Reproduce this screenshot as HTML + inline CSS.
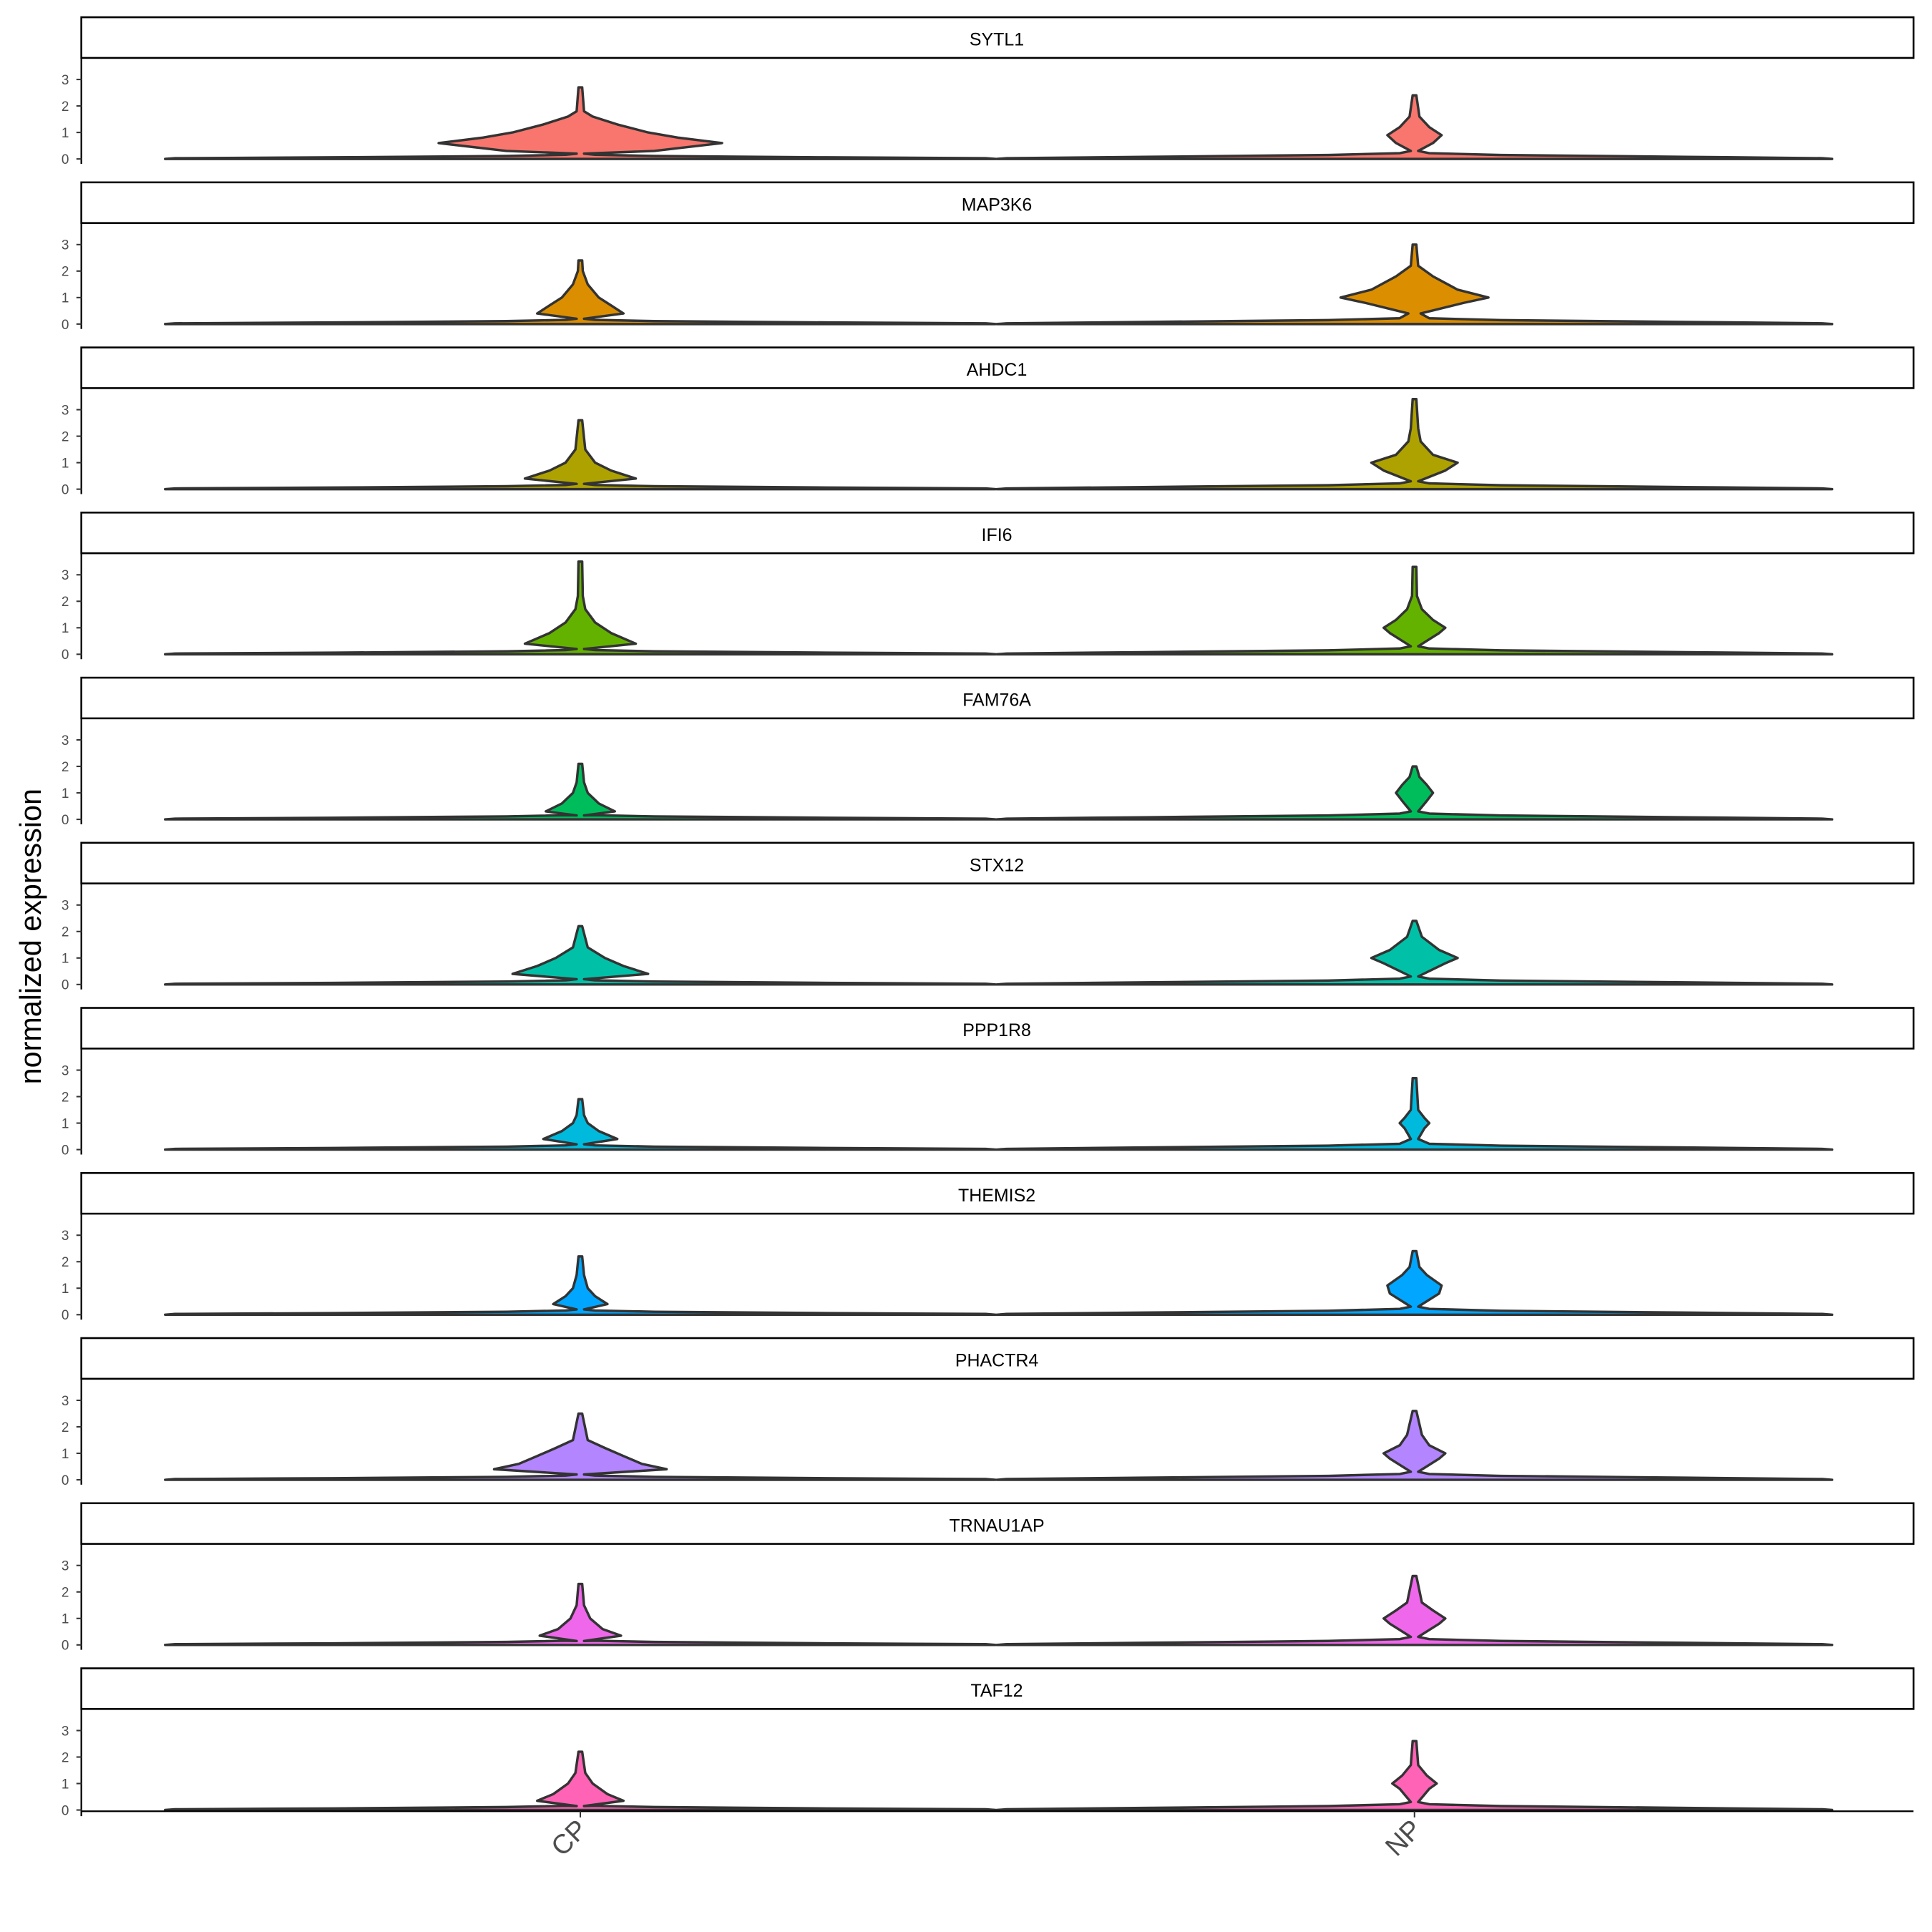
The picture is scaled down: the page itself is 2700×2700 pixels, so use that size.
<!DOCTYPE html>
<html><head><meta charset="utf-8"><style>html,body{margin:0;padding:0;background:#fff}svg{display:block}</style></head>
<body>
<svg id="s" xmlns="http://www.w3.org/2000/svg" width="2700" height="2700" viewBox="0 0 1568 1568" font-family="Liberation Sans, sans-serif">
<rect width="1568" height="1568" fill="#fff"/>
<g id="g"></g>
<g id="t" fill="#000" font-size="14.5" text-anchor="middle">
<text x="809" y="37">SYTL1</text>
<text x="809" y="171">MAP3K6</text>
<text x="809" y="305">AHDC1</text>
<text x="809" y="439">IFI6</text>
<text x="809" y="573">FAM76A</text>
<text x="809" y="707">STX12</text>
<text x="809" y="841">PPP1R8</text>
<text x="809" y="975">THEMIS2</text>
<text x="809" y="1109">PHACTR4</text>
<text x="809" y="1243">TRNAU1AP</text>
<text x="809" y="1377">TAF12</text>
</g>
<text transform="translate(33,760) rotate(-90)" font-size="24" text-anchor="middle" fill="#000">normalized expression</text>
<text transform="translate(478,1486) rotate(-45)" font-size="22" text-anchor="end" fill="#4d4d4d">CP</text>
<text transform="translate(1155,1486) rotate(-45)" font-size="22" text-anchor="end" fill="#4d4d4d">NP</text>
<line x1="471" y1="1470" x2="471" y2="1475" stroke="#333" stroke-width="1.2"/>
<line x1="1148" y1="1470" x2="1148" y2="1475" stroke="#333" stroke-width="1.2"/>
</svg>
<script>
var cols=["#F8766D","#DB8E00","#AEA200","#64B200","#00BD5C","#00C1A7","#00BADE","#00A6FF","#B385FF","#EF67EB","#FF63B6"];
var P=[
[[[0.2,3],[0.3,60],[0.6,115],[0.8,80],[1.0,55],[1.3,30],[1.6,10],[1.8,3],[2.7,1.5]],[[0.3,3],[0.6,15],[0.9,22],[1.2,12],[1.6,4],[2.4,1.5]]],
[[[0.2,3],[0.4,35],[0.7,25],[1.0,15],[1.5,6],[2.0,2],[2.4,1.5]],[[0.4,5],[0.8,40],[1.0,60],[1.3,35],[1.8,15],[2.2,3],[3.0,1.5]]],
[[[0.2,3],[0.4,45],[0.7,25],[1.0,12],[1.5,4],[2.6,1.5]],[[0.3,3],[0.7,25],[1.0,35],[1.3,15],[1.8,5],[2.3,3],[3.4,1.5]]],
[[[0.2,3],[0.4,45],[0.8,25],[1.2,12],[1.7,4],[2.2,2],[3.5,1.5]],[[0.3,3],[0.8,20],[1.0,25],[1.3,15],[1.7,6],[2.2,2],[3.3,1.5]]],
[[[0.15,3],[0.3,28],[0.6,15],[1.0,6],[1.4,3],[2.1,1.5]],[[0.3,3],[0.7,10],[1.0,15],[1.3,10],[1.6,4],[2.0,1.5]]],
[[[0.2,3],[0.4,55],[0.7,35],[1.0,20],[1.4,6],[2.2,1.5]],[[0.3,3],[0.8,25],[1.0,35],[1.3,20],[1.8,6],[2.4,1.5]]],
[[[0.2,3],[0.4,30],[0.7,15],[1.0,6],[1.3,3],[1.9,1.5]],[[0.4,3],[0.8,8],[1.0,12],[1.2,8],[1.5,3],[2.7,1.5]]],
[[[0.2,3],[0.4,22],[0.7,12],[1.0,6],[1.5,3],[2.2,1.5]],[[0.3,3],[0.8,20],[1.1,22],[1.5,10],[1.8,4],[2.4,1.5]]],
[[[0.2,3],[0.4,70],[0.6,50],[0.9,35],[1.2,20],[1.5,6],[2.5,1.5]],[[0.3,3],[0.8,20],[1.0,25],[1.3,12],[1.7,6],[2.6,1.5]]],
[[[0.15,3],[0.35,33],[0.6,18],[1.0,8],[1.5,3],[2.3,1.5]],[[0.3,3],[0.8,20],[1.0,25],[1.3,15],[1.6,6],[2.6,1.5]]],
[[[0.15,3],[0.35,35],[0.6,22],[1.0,10],[1.4,4],[2.2,1.5]],[[0.3,3],[0.8,12],[1.0,18],[1.3,10],[1.7,3],[2.6,1.5]]]
];
var u=21.5,h="";
for(var i=0;i<11;i++){
 var off=134*i,y0=129+off;
 h+='<rect x="66" y="'+(14+off)+'" width="1487" height="33" fill="#fff" stroke="#000" stroke-width="1.5"/>';
 h+='<line x1="66" y1="'+(47+off)+'" x2="66" y2="'+(133+off+(i==10?1:0))+'" stroke="#000" stroke-width="1.3"/>';
 for(var k=0;k<4;k++){var ty=y0-k*u;
  h+='<line x1="62" y1="'+ty+'" x2="66" y2="'+ty+'" stroke="#333" stroke-width="1.2"/>';
  h+='<text x="56" y="'+(ty+4)+'" font-size="11" text-anchor="end" fill="#4d4d4d">'+k+'</text>';}
 for(var j=0;j<2;j++){
  var cx=j?1148:471,hw=j?339:337;
  var base=j?[[0,hw],[0.03,hw-8],[0.08,220],[0.15,70],[0.22,12]]:[[0,hw],[0.03,hw-8],[0.06,200],[0.11,60],[0.16,12]];
  var prof=base.concat(P[i][j]);
  var L=[],R=[];
  for(var p=0;p<prof.length;p++){var yy=(y0-prof[p][0]*u).toFixed(1);L.push((cx-prof[p][1]).toFixed(1)+','+yy);R.push((cx+prof[p][1]).toFixed(1)+','+yy);}
  var pts=L.concat(R.reverse());
  h+='<path d="M'+pts.join(' L')+' Z" fill="'+cols[i]+'" stroke="#333" stroke-width="2" stroke-linejoin="round"/>';
 }
}
h+='<line x1="66" y1="1470" x2="1553" y2="1470" stroke="#000" stroke-width="1.3"/>';
document.getElementById('g').innerHTML=h;
</script>
</body></html>
